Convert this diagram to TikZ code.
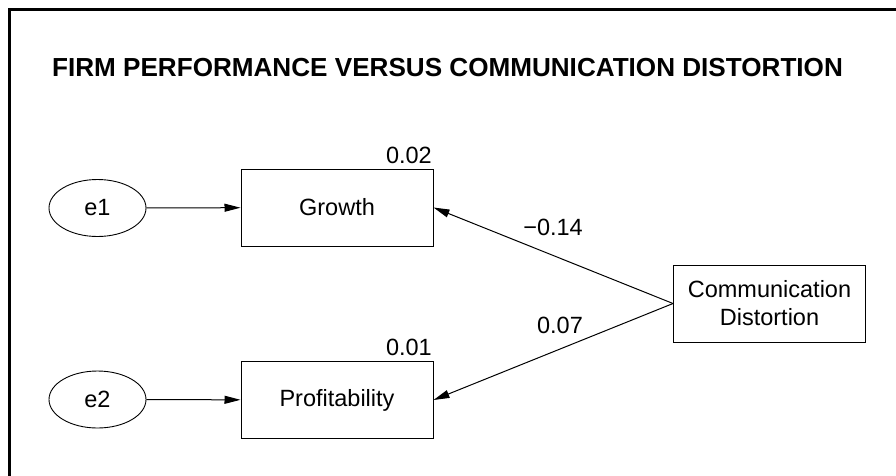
\documentclass[tikz,border=0pt]{standalone}
\usepackage{fontspec}
\setmainfont{Liberation Sans}
\usetikzlibrary{arrows.meta,shapes.geometric}
\begin{document}
\begin{tikzpicture}[x=1pt,y=-1pt,
  txt/.style={font=\fontsize{23.5}{28}\selectfont},
  obs/.style={draw,line width=1pt,minimum width=192pt,minimum height=77pt,inner sep=0pt,txt,align=center},
  err/.style={draw,ellipse,line width=0.9pt,minimum width=97pt,minimum height=57pt,inner sep=0pt,txt},
  lbl/.style={txt,inner sep=0pt},
  conn/.style={line width=1pt,-{Triangle[length=16pt,width=8pt]}}]
\useasboundingbox (0,0) rectangle (896,475);
\fill[white] (0,0) rectangle (896,475);
\draw[line width=3pt] (9.5,480) -- (9.5,9.5) -- (900,9.5);
\node[lbl,font=\fontsize{26.1}{30}\selectfont\bfseries] (title) at (447.5,68) {FIRM PERFORMANCE VERSUS COMMUNICATION DISTORTION};
\node[err] (e1) at (97.5,208) {e1};
\node[err] (e2) at (97.5,399.5) {e2};
\node[obs] (g) at (337,207.5) {Growth};
\node[obs] (p) at (337,400) {Profitability};
\node[obs] (cd) at (769.5,303.5) {Communication\\Distortion};
\node[lbl,anchor=east] (r1) at (432,155) {0.02};
\node[lbl,anchor=east] (r2) at (432,347) {0.01};
\draw[conn] (e1) -- (g);
\draw[conn] (e2) -- (p);
\draw[conn] (cd.west) -- (g.east);
\draw[conn] (cd.west) -- (p.east);
\node[lbl] (w1) at (553,227) {−0.14};
\node[lbl] (w2) at (560,325) {0.07};
\end{tikzpicture}
\end{document}
